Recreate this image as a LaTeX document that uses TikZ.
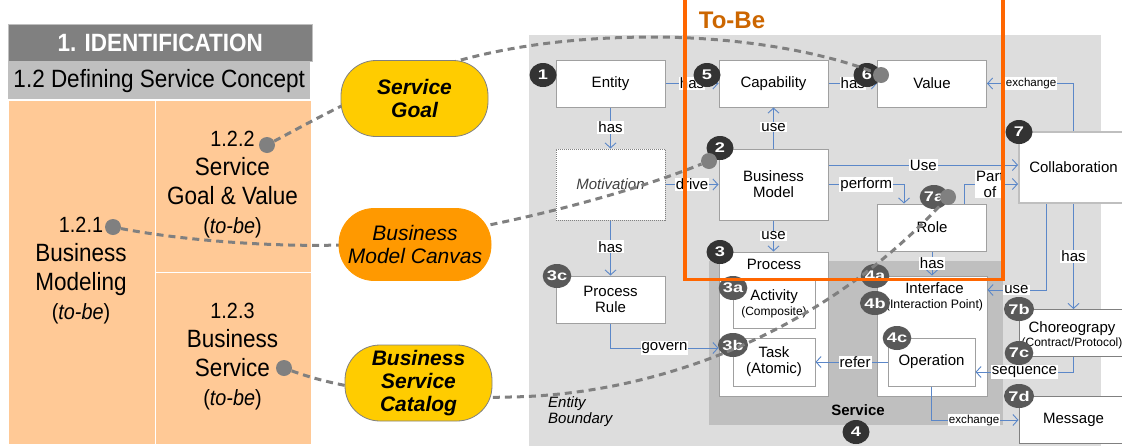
\documentclass[tikz,border=0pt]{standalone}
\usepackage{fontspec}
\setmainfont{Liberation Sans}
\newfontfamily\condf[FakeStretch=0.9]{Liberation Sans}
\usetikzlibrary{arrows.meta,shapes.geometric}
\definecolor{panelor}{HTML}{FFC996}
\definecolor{hdrdark}{HTML}{808080}
\definecolor{hdrlight}{HTML}{BFBFBF}
\definecolor{regionA}{HTML}{DDDDDD}
\definecolor{regionB}{HTML}{BFBFBF}
\definecolor{goldy}{HTML}{FFCC00}
\definecolor{ambery}{HTML}{FF9900}
\definecolor{linkb}{HTML}{5B87C8}
\definecolor{boxline}{HTML}{A0A0A0}
\definecolor{dashg}{HTML}{808080}
\definecolor{tobeline}{HTML}{FF6600}
\definecolor{tobetext}{HTML}{CC6600}
\definecolor{badgedark}{HTML}{333333}
\definecolor{badgemid}{HTML}{595959}
\newcommand{\fs}[2]{\fontsize{#1}{#2}\selectfont}
\newcommand{\numl}[1]{{\fs{22}{29}#1}}
\newcommand{\tobel}{{\fs{22}{29}(\textit{to-be})}}
\tikzset{
  cell/.style={rectangle,fill=panelor,draw=white,line width=0.8pt,inner sep=0,anchor=north west},
  leftxt/.style={inner sep=0,align=center,text=black,font=\condf\fs{25}{29}},
  ovalnode/.style={rectangle,rounded corners=35pt,draw=gray,line width=0.8pt,inner sep=0,align=center,font=\fs{21}{23}\bfseries\itshape},
  boxn/.style={rectangle,draw=boxline,fill=white,line width=1pt,inner sep=0,align=center,font=\fs{15}{16}},
  boxw/.style={boxn,minimum width=109pt,minimum height=47pt},
  boxt/.style={boxn,minimum width=109pt,minimum height=71pt},
  boxs/.style={boxn,minimum width=82pt,minimum height=48pt},
  plain/.style={inner sep=0,align=center,font=\fs{15}{16}},
  conn/.style={draw=linkb,line width=0.9pt,-{Straight Barb[length=5pt,width=11pt,line width=0.9pt]}},
  lab/.style={fill=white,inner sep=1pt,align=center,text=black,font=\fs{15}{16}},
  labs/.style={lab,font=\fs{11.6}{13}},
  badge/.style={ellipse,minimum width=27pt,minimum height=24pt,inner sep=0,fill=badgemid,text=white,font=\fs{14}{14}\bfseries},
  badged/.style={badge,fill=badgedark},
  dotn/.style={circle,fill=dashg,minimum size=16pt,inner sep=0},
  dashc/.style={draw=dashg,line width=3pt,dash pattern=on 7pt off 5pt},
}
\newcommand{\wdg}[1]{\scalebox{1.3}[1]{#1}}
\begin{document}
\begin{tikzpicture}[x=1pt,y=-1pt]
\path[use as bounding box,clip] (0,0) rectangle (1122,445);
% left panel
\node[rectangle,fill=hdrdark,draw=hdrlight,line width=0.5pt,minimum width=304pt,minimum height=37pt,inner sep=0,anchor=north west,text=white,font=\condf\fs{25}{25}\bfseries] (hdr) at (8,24) {1. IDENTIFICATION};
\node[rectangle,fill=hdrlight,minimum width=302pt,minimum height=37pt,inner sep=0,anchor=north west,text=black,font=\condf\fs{25}{25}] (sub) at (8,62) {1.2 Defining Service Concept};
\node[cell,minimum width=147pt,minimum height=344pt] (c1) at (7.5,99.5) {};
\node[cell,minimum width=156pt,minimum height=172pt] (c2) at (154.5,99.5) {};
\node[cell,minimum width=156pt,minimum height=172pt] (c3) at (154.5,271.5) {};
\node[leftxt] (t121) at (81,270.5) {\numl{1.2.1}\\Business\\Modeling\\\tobel};
\node[leftxt] (t122) at (232.5,184.5) {\numl{1.2.2}\\Service\\Goal \& Value\\\tobel};
\node[leftxt] (t123) at (232.5,357) {\numl{1.2.3}\\Business\\Service\\\tobel};
% regions
\node[rectangle,fill=regionA,minimum width=572pt,minimum height=412pt,inner sep=0,anchor=north west] (rega) at (529,35) {};
\node[rectangle,fill=regionB,minimum width=294pt,minimum height=164pt,inner sep=0,anchor=north west] (regb) at (709,261) {};
% boxes
\node[boxw] (entity) at (610.5,83.5) {Entity};
\node[boxw] (capab) at (773.5,83.5) {Capability};
\node[boxw] (value) at (932,83.5) {Value};
\node[boxt,draw=gray,densely dotted,text=black!75] (motiv) at (610.5,184.5) {\textit{Motivation}};
\node[boxt] (bm) at (773.5,184.5) {Business\\Model};
\node[boxt,draw=hdrlight,line width=2pt] (collab) at (1073.5,167.5) {Collaboration};
\node[boxw] (role) at (932,227.5) {Role};
\node[boxw] (prule) at (610.5,299.5) {Process\\Rule};
\node[boxn,minimum width=109pt,minimum height=144pt] (process) at (773.5,324) {};
\node[boxs,minimum height=49pt] (activity) at (774,304) {Activity\\[-1pt]{\fs{12}{13}(Composite)}};
\node[boxs] (task) at (774,362) {Task\\(Atomic)};
\node[boxn,minimum width=110pt,minimum height=120pt] (iface) at (932,336) {};
\node[boxn,minimum width=87pt,minimum height=48pt] (oper) at (931.5,362) {Operation};
\node[boxw,draw=gray] (chor) at (1073.5,333) {};
\node[boxw,draw=gray] (msg) at (1073.5,420) {Message};
\node[plain] (tproc) at (774,264) {Process};
\node[plain] (tiface) at (934.5,296.5) {Interface\\[-1pt]{\fs{12.3}{13}(Interaction Point)}};
\node[plain] (tchor) at (1072,335) {Choreograpy\\[-2pt]{\fs{12}{13}(Contract/Protocol)}};
\node[plain,anchor=west,align=left,font=\fs{15}{16}\itshape] (tbound) at (548,412) {Entity\\Boundary};
\node[plain,font=\fs{15}{16}\bfseries] (tservice) at (858,410) {Service};
% connectors
\draw[conn] (entity.east) -- node[lab,pos=.5] {has} (capab.west);
\draw[conn] (capab.east) -- node[lab,pos=.5] {has} (value.west);
\draw[conn] (entity.south) -- node[lab,pos=.48] {has} (motiv.north);
\draw[conn] (bm.north) -- node[lab,pos=.52] {use} (capab.south);
\draw[conn] (motiv.east) -- node[lab,pos=.5] {drive} (bm.west);
\draw[conn] (motiv.south) -- node[lab,pos=.48] {has} (prule.north);
\draw[conn] (bm.south) -- node[lab,pos=.5] {use} (process.north);
\draw[conn] (bm.east) -| node[lab,pos=.25] {perform} ([xshift=-28pt]role.north);
\draw[conn] ([yshift=19.5pt]bm.east) -- node[lab,pos=.5] {Use} ([yshift=2.5pt]collab.west);
\draw[conn] ([xshift=32pt]role.north) |- node[lab,pos=.74] {Part\\of} ([yshift=-16.5pt]collab.west);
\draw[conn] (collab.north) |- node[labs,pos=.745] {exchange} (value.east);
\draw[conn] (role.south) -- node[lab,pos=.5] {has} (iface.north);
\draw[conn] ([xshift=-27pt]collab.south) |- node[lab,pos=.755] {use} ([yshift=46pt]iface.east);
\draw[conn] (collab.south) -- node[lab,pos=.5] {has} (chor.north);
\draw[conn] (chor.south) |- node[lab,pos=.75] {sequence} ([yshift=-10pt]oper.east);
\draw[conn] (oper.south) |- node[labs,pos=.745] {exchange} (msg.west);
\draw[conn] (oper.west) -- node[lab,pos=.45] {refer} (task.east);
\draw[conn] (prule.south) |- node[lab,pos=.75] {govern} ([yshift=-24pt]process.west);
% badges
\node[badged] (b1) at (543,75) {\wdg{1}};
\node[badged] (b5) at (707,75) {\wdg{5}};
\node[badged] (b2) at (720,148) {\wdg{2}};
\node[badged] (b6) at (867,75) {\wdg{6}};
\node[badged] (b7) at (1019,132) {\wdg{7}};
\node[badged] (b3) at (720,252) {\wdg{3}};
\node[badged] (b4) at (856,432) {\wdg{4}};
\node[badge] (b7a) at (934,197) {\wdg{7a}};
\node[badge] (b3a) at (733,288) {\wdg{3a}};
\node[badge] (b3b) at (733,345) {\wdg{3b}};
\node[badge] (b3c) at (557,276) {\wdg{3c}};
\node[badge] (b4a) at (875,276) {\wdg{4a}};
\node[badge] (b4b) at (875,303) {\wdg{4b}};
\node[badge] (b4c) at (897,338) {\wdg{4c}};
\node[badge] (b7b) at (1019,309) {\wdg{7b}};
\node[badge] (b7c) at (1019,353) {\wdg{7c}};
\node[badge] (b7d) at (1019,396) {\wdg{7d}};
% dots and dashed curves
\node[dotn] (d122) at (267,145) {};
\node[dotn] (d121) at (113,227) {};
\node[dotn] (d123) at (284,368) {};
\node[dotn] (d6) at (881,75) {};
\node[dotn] (d2) at (709,161) {};
\node[dotn] (d7a) at (948,197) {};
\coordinate (peak) at (650,37);
\coordinate (midb) at (340,245);
\coordinate (midc) at (510,397);
\draw[dashc] (d122) .. controls (370,90) and (460,38) .. (peak) .. controls (750,37) and (830,55) .. (d6);
\draw[dashc] (d121) .. controls (180,240) and (270,247) .. (midb) .. controls (430,243) and (600,205) .. (d2);
\draw[dashc] (d123) .. controls (330,385) and (400,400) .. (midc) .. controls (640,395) and (810,345) .. (d7a);
% ovals
\node[ovalnode,fill=goldy,minimum width=147pt,minimum height=76pt] (sg) at (414.5,98.5) {Service\\Goal};
\node[ovalnode,fill=ambery,draw=ambery,minimum width=152pt,minimum height=72pt,font=\fs{21}{23}\itshape] (bmc) at (415,244.5) {Business\\Model Canvas};
\node[ovalnode,fill=goldy,minimum width=147pt,minimum height=76pt] (bsc) at (418.5,383) {Business\\Service\\Catalog};
% to-be frame
\coordinate (tbtl) at (685,-3);
\coordinate (tbbr) at (1003,279.5);
\draw[tobeline,line width=3.6pt] (tbtl) -- (tbtl |- tbbr) -- (tbbr) -- (tbbr |- tbtl);
\node[inner sep=0,text=tobetext,font=\fs{24}{24}\bfseries] (tobe) at (732,20) {To-Be};
\end{tikzpicture}
\end{document}
